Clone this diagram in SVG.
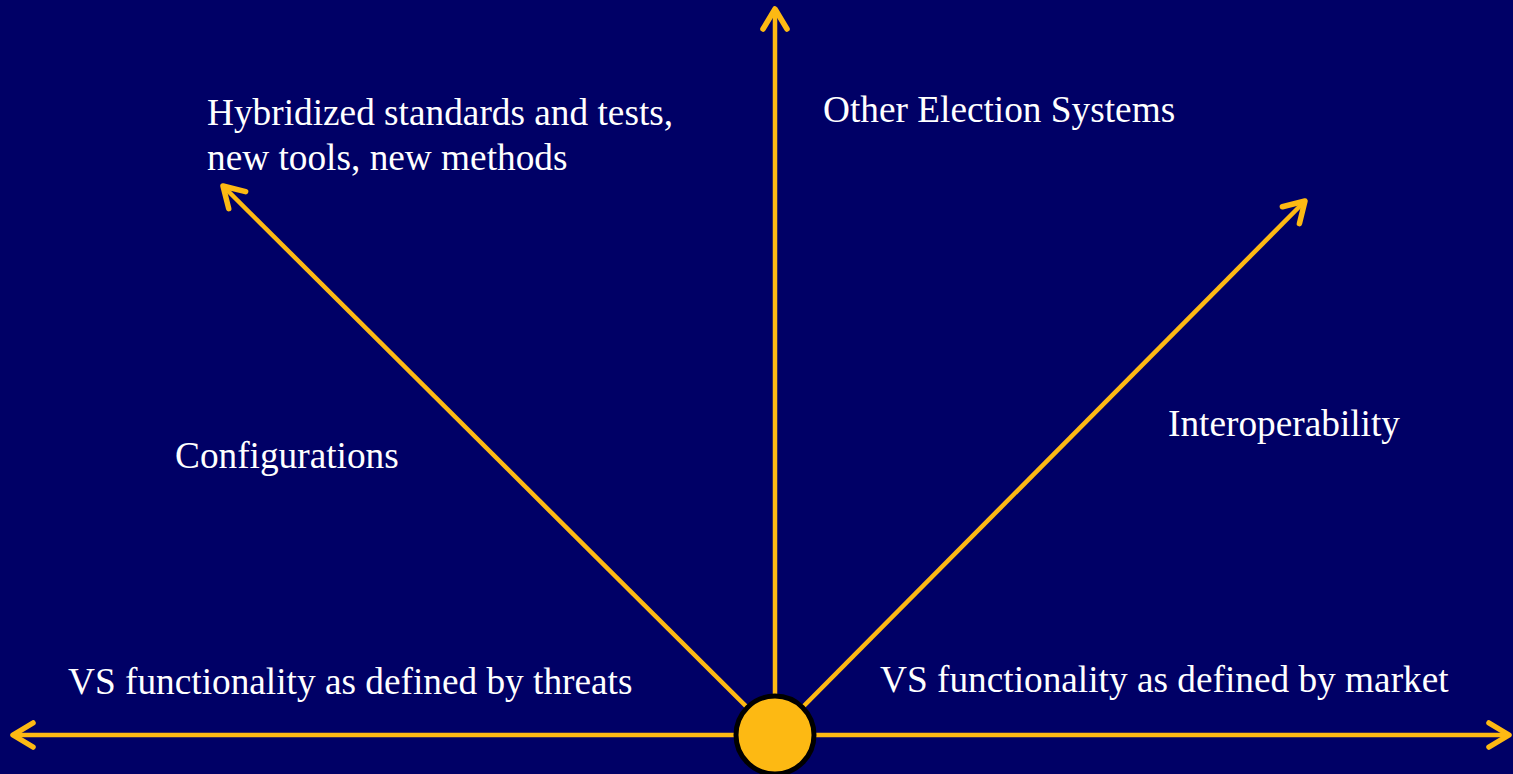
<svg xmlns="http://www.w3.org/2000/svg" width="1513" height="774" viewBox="0 0 1513 774">
  <style>
    .axis { stroke: #FDB913; stroke-width: 4.5; fill: none; marker-end: url(#chevron); }
    .label { font-family: "Liberation Serif", "Times New Roman", serif; font-size: 37.3px; fill: #FFFFFF; }
  </style>
  <defs>
    <marker id="chevron" markerUnits="userSpaceOnUse" markerWidth="40" markerHeight="40" viewBox="-30 -20 40 40" refX="0" refY="0" orient="auto" overflow="visible">
      <path d="M-20,-12 L0,0 L-20,12" fill="none" stroke="#FDB913" stroke-width="5.5" stroke-linecap="round" stroke-linejoin="round"/>
    </marker>
  </defs>
  <rect width="1513" height="774" fill="#000066"/>

  <g id="connectors">
    <line class="axis" x1="775" y1="735" x2="13" y2="735"/>
    <line class="axis" x1="775" y1="735" x2="1509" y2="735"/>
    <line class="axis" x1="775" y1="735" x2="775" y2="9"/>
    <line class="axis" x1="775" y1="735" x2="223" y2="186"/>
    <line class="axis" x1="775" y1="735" x2="1305" y2="201"/>
  </g>

  <g id="origin">
    <circle cx="775" cy="735" r="39" fill="#FDB913" stroke="#000000" stroke-width="5"/>
  </g>

  <g id="hybridized">
    <text class="label" x="207" y="125">Hybridized standards and tests,</text>
    <text class="label" x="207" y="170">new tools, new methods</text>
  </g>
  <g id="other-systems">
    <text class="label" x="823" y="122">Other Election Systems</text>
  </g>
  <g id="interoperability">
    <text class="label" x="1168" y="436">Interoperability</text>
  </g>
  <g id="configurations">
    <text class="label" x="175" y="468">Configurations</text>
  </g>
  <g id="threats">
    <text class="label" x="68" y="694">VS functionality as defined by threats</text>
  </g>
  <g id="market">
    <text class="label" x="880" y="692">VS functionality as defined by market</text>
  </g>
</svg>
